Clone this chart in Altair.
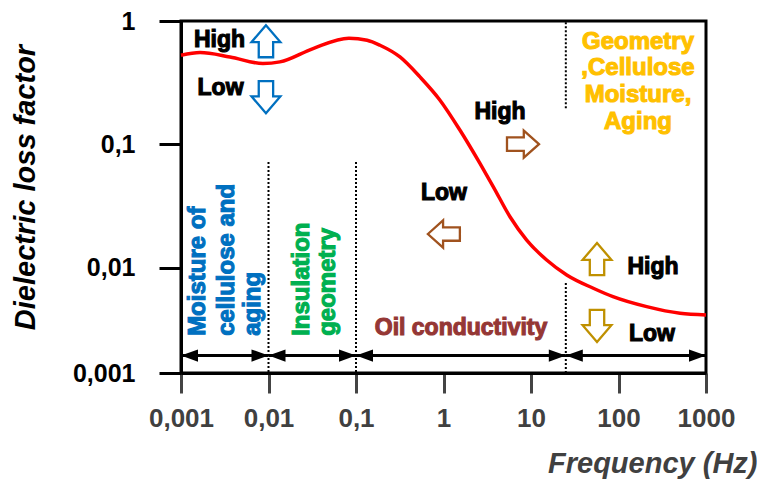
import json
import altair as alt
import pandas as pd

# ---------------- data ----------------
freq = [0.001, 0.00165, 0.00363, 0.00865, 0.0135, 0.0323, 0.083, 0.134, 0.188, 0.318,
        0.538, 0.912, 1.545, 2.61, 3.71, 5.75, 8.93, 15.1, 25.6, 51.5, 86.5, 210, 505, 1000]
loss = [0.527, 0.555, 0.511, 0.452, 0.466, 0.598, 0.725, 0.698, 0.636, 0.511,
        0.352, 0.228, 0.130, 0.070, 0.0453, 0.0259, 0.01676, 0.01154, 0.00873, 0.00681,
        0.00582, 0.00483, 0.00427, 0.00414]

x_ticks = [0.001, 0.01, 0.1, 1, 10, 100, 1000]
x_tick_labels = ["0,001", "0,01", "0,1", "1", "10", "100", "1000"]
y_ticks = [0.0014, 0.01, 0.1, 1]
y_tick_labels = ["0,001", "0,01", "0,1", "1"]
x_domain = [0.001, 1000]
y_domain = [0.0014, 1]

region_bounds = [0.001, 0.01, 0.1, 25, 1000]
region_arrow_level = [0.00194]

divider_x = [0.01, 0.1, 25, 25]
divider_top = [0.072, 0.072, 0.976, 0.0075]
divider_bottom = [0.0014, 0.0014, 0.196, 0.0014]

hl_text = ["High", "Low", "High", "Low", "High", "Low"]
hl_x = [0.00275, 0.00283, 4.43, 1.01, 248, 241]
hl_y = [0.698, 0.285, 0.182, 0.0403, 0.01013, 0.0029]

arrow_dir = ["up", "down", "right", "left", "up", "down"]
arrow_x = [0.00935, 0.00935, 8.1, 1.01, 56.8, 56.8]
arrow_y = [0.685, 0.241, 0.1004, 0.01875, 0.01175, 0.00337]
arrow_group = ["cellulose", "cellulose", "oil", "oil", "geometry", "geometry"]

vert_text = ["Moisture of", "cellulose and", "aging", "Insulation", "geometry"]
vert_x = [0.00156, 0.00336, 0.00665, 0.0241, 0.0479]
vert_y = [0.0028, 0.0028, 0.0028, 0.0028, 0.0028]
vert_group = ["cellulose", "cellulose", "cellulose", "insulation", "insulation"]

oil_text = ["Oil conductivity"]
oil_x = [1.585]
oil_y = [0.00325]

geo_text = ["Geometry", ",Cellulose", "Moisture,", "Aging"]
geo_x = [167, 167, 167, 167]
geo_y = [0.672, 0.414, 0.250, 0.151]

# ---------------- styles ----------------
arrow_colors = {"cellulose": "#0070C0", "oil": "#A0521E", "geometry": "#BF9000"}
text_colors = {"cellulose": "#0070C0", "insulation": "#00B050"}
arrow_paths = {
    "up": "M0,-1L0.9,0.05L0.45,0.05L0.45,1L-0.45,1L-0.45,0.05L-0.9,0.05Z",
    "down": "M0,1L0.9,-0.05L0.45,-0.05L0.45,-1L-0.45,-1L-0.45,-0.05L-0.9,-0.05Z",
    "right": "M1,0L0.05,-0.85L0.05,-0.42L-1,-0.42L-1,0.42L0.05,0.42L0.05,0.85Z",
    "left": "M-1,0L-0.05,-0.85L-0.05,-0.42L1,-0.42L1,0.42L-0.05,0.42L-0.05,0.85Z",
}
head_paths = {"left": "M0,0L2,-0.72L2,0.72Z", "right": "M0,0L-2,-0.72L-2,0.72Z"}
FONT = "Liberation Sans"
TEXT_STROKE = 1.1

# ---------------- tables ----------------
curve_df = pd.DataFrame({"x": freq, "y": loss})
div_df = pd.DataFrame({"x": divider_x, "y": divider_top, "y2": divider_bottom})
seg_df = pd.DataFrame({"x": region_bounds[:-1], "x2": region_bounds[1:],
                       "y": region_arrow_level * (len(region_bounds) - 1)})
head_rows = []
for a, b in zip(region_bounds[:-1], region_bounds[1:]):
    head_rows.append({"x": a, "y": region_arrow_level[0], "path": head_paths["left"]})
    head_rows.append({"x": b, "y": region_arrow_level[0], "path": head_paths["right"]})
head_df = pd.DataFrame(head_rows)
hl_df = pd.DataFrame({"x": hl_x, "y": hl_y, "t": hl_text})
arr_df = pd.DataFrame({"x": arrow_x, "y": arrow_y,
                       "path": [arrow_paths[d] for d in arrow_dir],
                       "col": [arrow_colors[g] for g in arrow_group]})
vert_df = pd.DataFrame({"x": vert_x, "y": vert_y, "t": vert_text,
                        "col": [text_colors[g] for g in vert_group]})
oil_df = pd.DataFrame({"x": oil_x, "y": oil_y, "t": oil_text})
geo_df = pd.DataFrame({"x": geo_x, "y": geo_y, "t": geo_text})

xs = alt.Scale(type="log", domain=x_domain, nice=False)
ys = alt.Scale(type="log", domain=y_domain, nice=False)

x_axis = alt.Axis(
    values=x_ticks,
    labelExpr=f"{json.dumps(x_tick_labels)}[indexof({json.dumps(x_ticks)}, datum.value)]",
    title="Frequency (Hz)", grid=False, tickSize=20, tickWidth=3, tickColor="#444444",
    domainColor="black", domainWidth=3, labelFont=FONT, labelFontSize=26,
    labelFontWeight="bold", labelColor="#404040", labelPadding=12, labelFlush=False,
    labelOverlap=False, titleFont=FONT, titleFontSize=29, titleFontStyle="italic",
    titleFontWeight="bold", titleColor="#404040", titleAlign="right", titleX=576,
    titleY=99, titleBaseline="alphabetic",
)
y_axis = alt.Axis(
    values=y_ticks,
    labelExpr=f"{json.dumps(y_tick_labels)}[indexof({json.dumps(y_ticks)}, datum.value)]",
    title="Dielectric loss factor", grid=False, tickSize=22, tickWidth=3, tickColor="black",
    domainColor="black", domainWidth=3, labelFont=FONT, labelFontSize=25,
    labelFontWeight="bold", labelColor="black", labelPadding=24, labelFlush=False,
    labelOverlap=False, titleFont=FONT, titleFontSize=29, titleFontStyle="italic",
    titleFontWeight="bold", titleColor="black", titleAngle=270, titleAlign="center",
    titleBaseline="middle", titleX=-156, titleY=166,
)


def X(f="x"):
    return alt.X(f"{f}:Q", scale=xs, axis=x_axis, title="Frequency (Hz)")


def Y(f="y"):
    return alt.Y(f"{f}:Q", scale=ys, axis=y_axis, title="Dielectric loss factor")


curve = alt.Chart(curve_df).mark_line(color="#FF0000", strokeWidth=3.5, interpolate="monotone").encode(
    x=X(), y=Y()
)

dividers = alt.Chart(div_df).mark_rule(color="black", strokeWidth=2, strokeDash=[2, 2]).encode(
    x=X(), y=Y(), y2="y2:Q"
)

segs = alt.Chart(seg_df).mark_rule(color="black", strokeWidth=3).encode(
    x=X(), x2="x2:Q", y=Y()
)

heads = alt.Chart(head_df).mark_point(filled=True, opacity=1, size=289, color="black", strokeWidth=0).encode(
    x=X(), y=Y(),
    shape=alt.Shape("path:N", scale=None),
)

arrows = alt.Chart(arr_df).mark_point(filled=False, opacity=1, size=1024, strokeWidth=2.3).encode(
    x=X(), y=Y(),
    shape=alt.Shape("path:N", scale=None),
    color=alt.Color("col:N", scale=None),
)

hl = alt.Chart(hl_df).mark_text(font=FONT, fontWeight="bold", fontSize=23, color="black",
                                stroke="black", strokeWidth=TEXT_STROKE).encode(x=X(), y=Y(), text="t:N")

vert = alt.Chart(vert_df).mark_text(font=FONT, fontWeight="bold", fontSize=24, angle=270,
                                    align="left", baseline="middle", strokeWidth=TEXT_STROKE).encode(
    x=X(), y=Y(), text="t:N",
    color=alt.Color("col:N", scale=None),
    stroke=alt.Stroke("col:N", scale=None),
)

oil = alt.Chart(oil_df).mark_text(font=FONT, fontWeight="bold", fontSize=23, color="#953735",
                                  stroke="#953735", strokeWidth=TEXT_STROKE).encode(x=X(), y=Y(), text="t:N")

geo = alt.Chart(geo_df).mark_text(font=FONT, fontWeight="bold", fontSize=24, color="#FFC000",
                                  stroke="#FFC000", strokeWidth=TEXT_STROKE).encode(x=X(), y=Y(), text="t:N")

chart = alt.layer(curve, dividers, segs, heads, arrows, hl, vert, oil, geo).properties(
    width=525, height=352,
    autosize=alt.AutoSizeParams(type="none"),
    padding={"left": 181, "top": 21, "right": 51, "bottom": 110},
    background="white",
).configure_view(stroke="black", strokeWidth=3)

chart.save("out.html", embed_options={"renderer": "svg", "actions": False})
